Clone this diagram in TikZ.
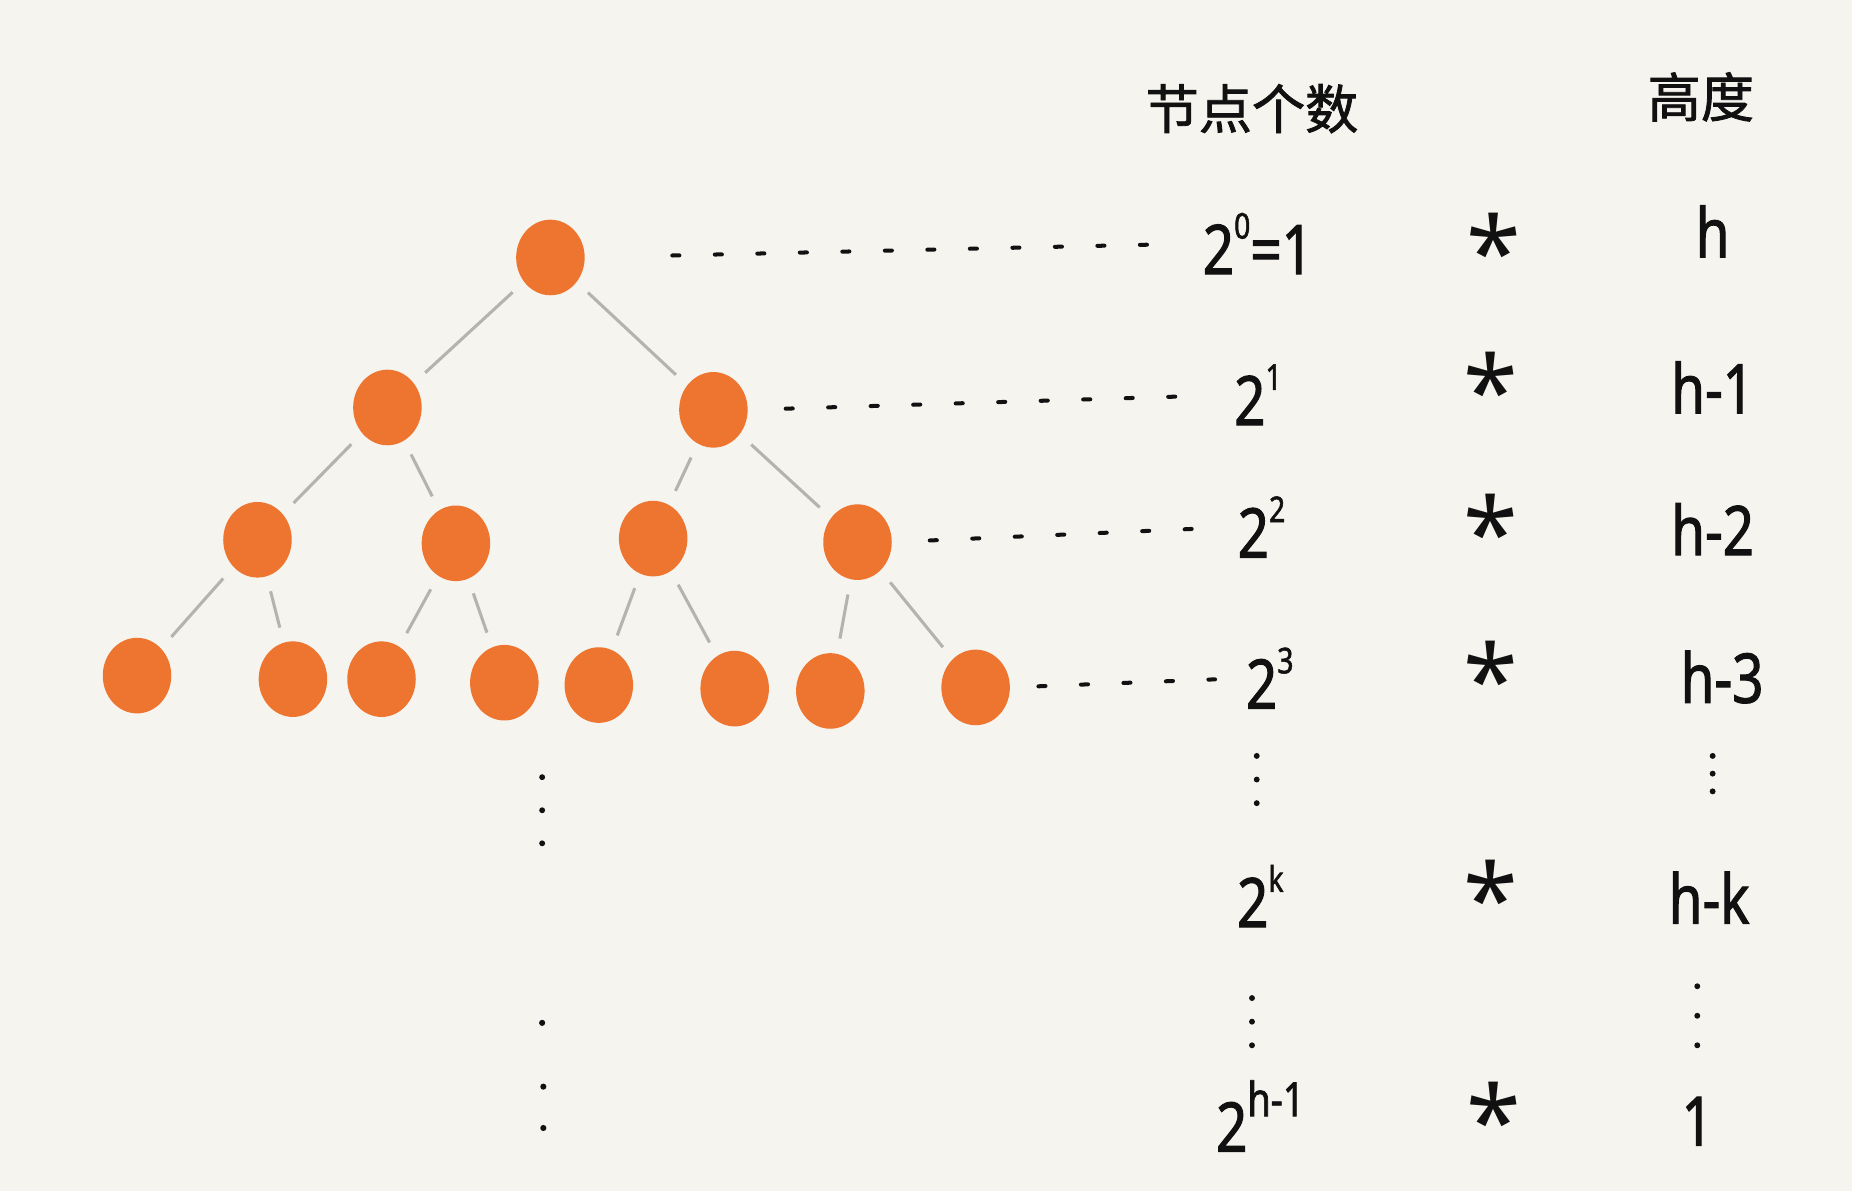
\documentclass[tikz,border=0pt]{standalone}
\usepackage{fontspec}
\setmainfont{Noto Sans}
\newfontfamily\hand[FakeStretch=0.8,FakeBold=1.5]{Noto Sans}
\newfontfamily\cjk[FakeBold=1.5]{Noto Sans CJK SC}
\usetikzlibrary{shapes.geometric}
\definecolor{Paper}{HTML}{F5F4EF}
\definecolor{Orange}{HTML}{EE7530}
\definecolor{Branch}{HTML}{B4B4AE}
\definecolor{Ink}{HTML}{111111}
\newcommand{\expo}[2][30]{\raisebox{30pt}{\fontsize{#1}{#1}\selectfont #2}}

\begin{document}
\begin{tikzpicture}[x=1pt,y=-1pt,
    ball/.style={ellipse,fill=Orange,inner sep=0pt,minimum width=58pt,minimum height=64pt},
    branch/.style={draw=Branch,line width=2.6pt,shorten <=13pt,shorten >=13pt},
    guide/.style={draw=Ink,line width=3.4pt,line cap=round,dash pattern=on 6pt off 30pt},
    vdots/.style={draw=Ink,line width=5pt,line cap=round,dash pattern=on 0pt off 20pt},
    count/.style={anchor=base,inner sep=0pt,text=Ink,font=\hand\fontsize{58}{58}\selectfont},
    times/.style={inner sep=0pt,text=Ink,font=\fontsize{84}{84}\selectfont},
    head/.style={inner sep=0pt,text=Ink,font=\cjk\fontsize{45}{45}\selectfont}
  ]
  \fill[Paper] (0,0) rectangle (1568,1008);
  \useasboundingbox (0,0) rectangle (1568,1008);

  % tree
  \node[ball] (r) at (466,218) {};
  \node[ball] (a1) at (328,345) {};
  \node[ball] (a2) at (604,347) {};
  \node[ball] (b1) at (218,457) {};
  \node[ball] (b2) at (386,460) {};
  \node[ball] (b3) at (553,456) {};
  \node[ball] (b4) at (726,459) {};
  \node[ball] (c1) at (116,572) {};
  \node[ball] (c2) at (248,575) {};
  \node[ball] (c3) at (323,575) {};
  \node[ball] (c4) at (427,578) {};
  \node[ball] (c5) at (507,580) {};
  \node[ball] (c6) at (622,583) {};
  \node[ball] (c7) at (703,585) {};
  \node[ball] (c8) at (826,582) {};
  \draw[branch] (r) -- (a1);
  \draw[branch] (r) -- (a2);
  \draw[branch] (a1) -- (b1);
  \draw[branch] (a1) -- (b2);
  \draw[branch] (a2) -- (b3);
  \draw[branch] (a2) -- (b4);
  \draw[branch] (b1) -- (c1);
  \draw[branch] (b1) -- (c2);
  \draw[branch] (b2) -- (c3);
  \draw[branch] (b2) -- (c4);
  \draw[branch] (b3) -- (c5);
  \draw[branch] (b3) -- (c6);
  \draw[branch] (b4) -- (c7);
  \draw[branch] (b4) -- (c8);
  \draw[vdots,dash pattern=on 0pt off 28pt] (459,658) -- (459,716);
  \fill[Ink] (459,866) circle (2.6pt);
  \fill[Ink] (460,920) circle (2.6pt);
  \fill[Ink] (460,955) circle (2.6pt);

  % headers
  \node[head] (hcount) at (1060,92) {节点个数};
  \node[head] (hheight) at (1440,82) {高度};

  % node counts
  \node[count] (p0) at (1065,232) {2\expo{0}=1};
  \node[count] (p1) at (1065,360) {2\expo{1}};
  \node[count] (p2) at (1068,472) {2\expo{2}};
  \node[count] (p3) at (1075,600) {2\expo{3}};
  \node[count] (pk) at (1067,785) {2\expo{k}};
  \node[count] (ph) at (1067,975) {2\expo[40]{h-1}};
  \draw[vdots] (1064,640) -- (1064,682);
  \draw[vdots] (1060,845) -- (1060,887);

  % times
  \node[times] (t0) at (1265,212) {*};
  \node[times] (t1) at (1262,330) {*};
  \node[times] (t2) at (1262,450) {*};
  \node[times] (t3) at (1262,575) {*};
  \node[times] (tk) at (1262,760) {*};
  \node[times] (th) at (1265,948) {*};

  % heights
  \node[count] (q0) at (1450,218) {h};
  \node[count] (q1) at (1450,350) {h-1};
  \node[count] (q2) at (1450,470) {h-2};
  \node[count] (q3) at (1458,595) {h-3};
  \node[count] (qk) at (1447,782) {h-k};
  \node[count] (qh) at (1437,970) {1};
  \draw[vdots,dash pattern=on 0pt off 15pt] (1450,640) -- (1450,671);
  \draw[vdots,dash pattern=on 0pt off 25pt] (1437,835) -- (1437,886);

  % level guides
  \draw[guide,shorten <=74pt,shorten >=24pt] (r.east) -- (p0.west);
  \draw[guide,shorten <=32pt,shorten >=46pt] (a2.east) -- (p1.west);
  \draw[guide,shorten <=32pt,shorten >=36pt] (b4.east) -- (p2.west);
  \draw[guide,shorten <=24pt,shorten >=26pt] (c8.east) -- (p3.west);
\end{tikzpicture}
\end{document}
